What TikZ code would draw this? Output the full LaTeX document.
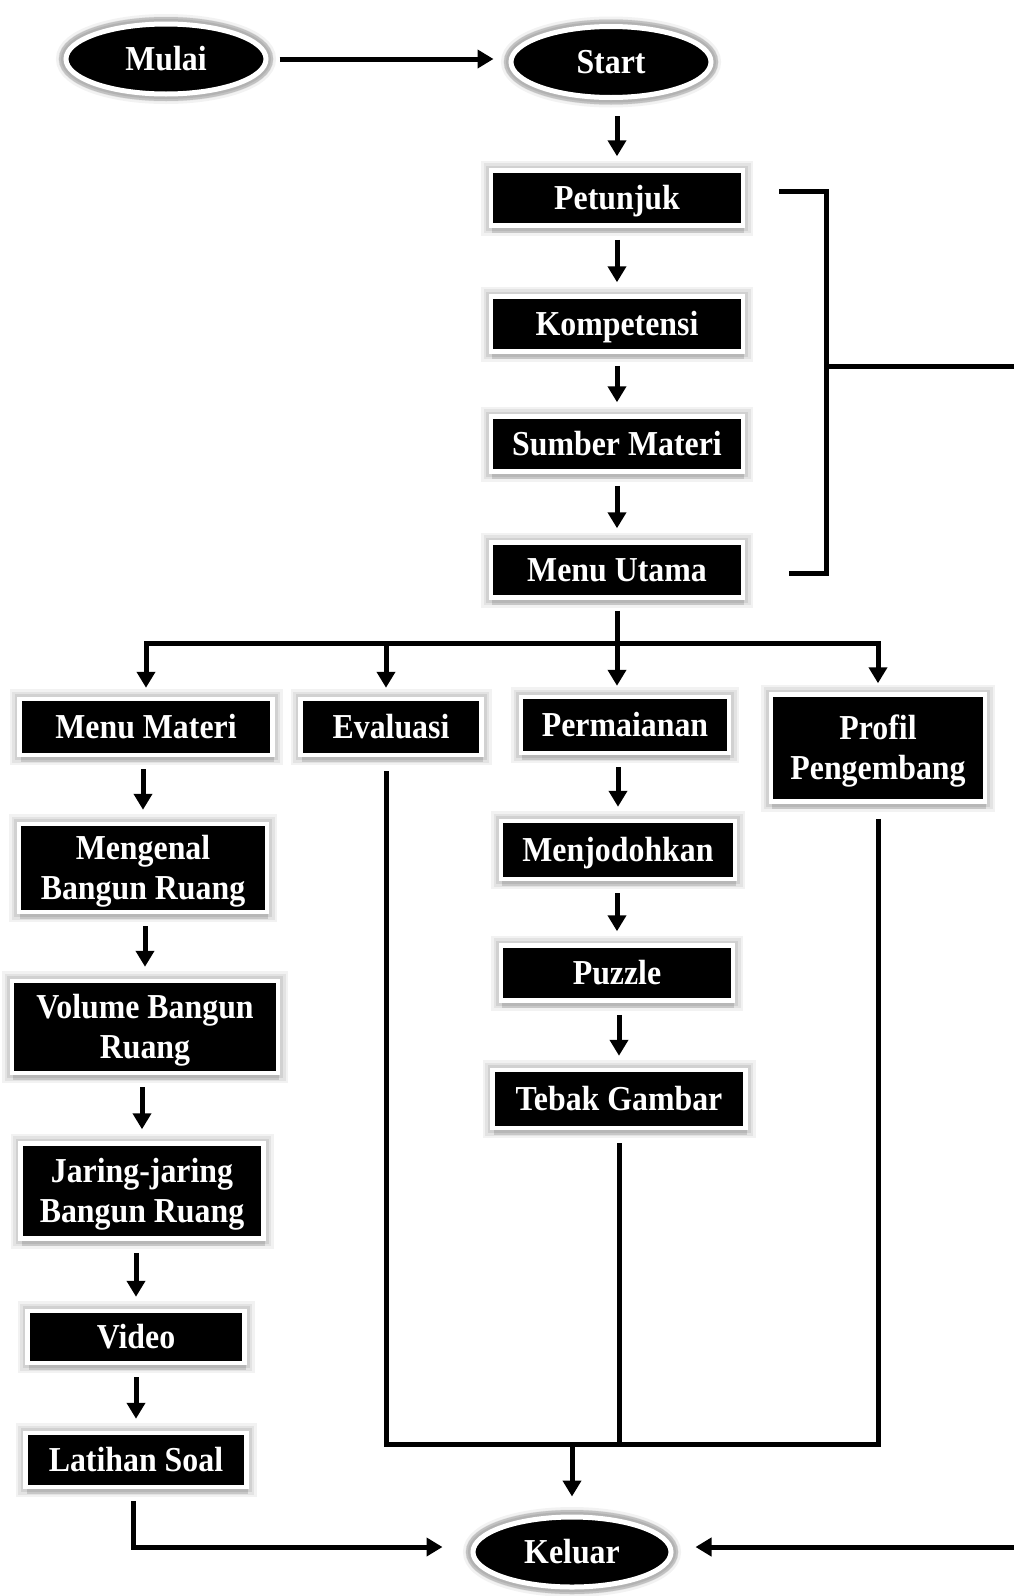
\documentclass[tikz,border=0pt]{standalone}
\usepackage{fontspec}
\setmainfont{Liberation Serif}[FakeStretch=0.91]
\usetikzlibrary{shapes.geometric,arrows.meta,shadows,calc}
\tikzset{
  lbl/.style={text=white, font=\fontsize{35}{40}\selectfont\bfseries, align=center, inner sep=0pt,
    text height=31pt, text depth=8pt},
  twoline/.style={text height=71pt},
  glow/.style={
    preaction={draw=black, draw opacity=0.05, line width=20pt},
    preaction={draw=black, draw opacity=0.06, line width=15pt},
    preaction={draw=black, draw opacity=0.08, line width=10pt}},
  box/.style={lbl, rectangle, fill=black, draw=white, line width=4.5pt,
    drop shadow={shadow xshift=1pt, shadow yshift=-7pt, fill=black, opacity=0.12},
    glow},
  oval/.style={lbl, ellipse, fill=black, draw=white, line width=5pt,
    drop shadow={shadow xshift=0pt, shadow yshift=-6pt, fill=black, opacity=0.12},
    preaction={draw=black!14, line width=14pt}, glow},
  ln/.style={line width=5pt, draw=black},
  arr/.style={ln, -{Triangle[length=16pt,width=18pt]}},
}
\begin{document}
\begin{tikzpicture}[x=1pt,y=-1pt]
\useasboundingbox[fill=white] (0,0) rectangle (1014,1596);

% nodes
\node[oval, minimum width=200pt, minimum height=70pt] (mulai) at (166,59) {Mulai};
\node[oval, minimum width=200pt, minimum height=71pt] (start) at (611,62) {Start};
\node[box, minimum width=252pt, minimum height=55pt] (pet) at (617,198) {Petunjuk};
\node[box, minimum width=252pt, minimum height=55pt] (komp) at (617,324) {Kompetensi};
\node[box, minimum width=252pt, minimum height=55pt] (sm) at (617,444) {Sumber Materi};
\node[box, minimum width=252pt, minimum height=55pt] (mu) at (617,570) {Menu Utama};

\node[box, minimum width=253pt, minimum height=56pt] (mm) at (146,727) {Menu Materi};
\node[box, minimum width=181pt, minimum height=56pt] (ev) at (391,727) {Evaluasi};
\node[box, minimum width=208pt, minimum height=56pt] (perm) at (625,725) {Permaianan};
\node[box, twoline, minimum width=214pt, minimum height=107pt] (pp) at (878,748) {Profil\\Pengembang};

\node[box, twoline, minimum width=248pt, minimum height=88pt] (meng) at (143,868) {Mengenal\\Bangun Ruang};
\node[box, twoline, minimum width=266pt, minimum height=92pt] (vol) at (145,1027) {Volume Bangun\\Ruang};
\node[box, twoline, minimum width=243pt, minimum height=95pt] (jar) at (142,1191) {Jaring-jaring\\Bangun Ruang};
\node[box, minimum width=217pt, minimum height=52pt] (vid) at (136,1337) {Video};
\node[box, minimum width=221pt, minimum height=54pt] (ls) at (136,1460) {Latihan Soal};

\node[box, minimum width=234pt, minimum height=58pt] (menj) at (618,850) {Menjodohkan};
\node[box, minimum width=232pt, minimum height=55pt] (puz) at (617,973) {Puzzle};
\node[box, minimum width=253pt, minimum height=58pt] (tg) at (619,1099) {Tebak Gambar};

\node[oval, minimum width=198pt, minimum height=70pt] (keluar) at (572,1552) {Keluar};

% coordinates
\coordinate (bus) at (618,643);
\coordinate (busB) at (573,1444);
\coordinate (evx) at (386,0);
\coordinate (bt) at (779,191);
\coordinate (btc) at (826,191);
\coordinate (bbc) at (826,573);
\coordinate (bb) at (789,573);
\coordinate (bm) at (826,366);
\coordinate (bmr) at (1014,366);
\coordinate (rin) at (1014,1547);
\coordinate (lin) at (133,1547);

% connectors
\draw[arr, shorten <=11pt, shorten >=15pt] (mulai.east) -- (mulai.east -| start.west);
\draw[arr, shorten <=16pt, shorten >=12pt] (start.south -| pet.north) -- (pet.north);
\foreach \a/\b in {pet/komp, komp/sm, sm/mu, mm/meng, meng/vol, vol/jar, jar/vid, vid/ls, perm/menj, menj/puz, puz/tg}
  \draw[arr, shorten <=12pt, shorten >=12pt] (\a.south -| \b.north) -- (\b.north);

% bracket
\draw[ln] (bt) -- (btc) -- (bbc) -- (bb);
\draw[ln] (bm) -- (bmr);

% menu utama bus
\draw[ln, shorten <=11pt] (mu.south) -- (mu.south |- bus);
\draw[ln, line cap=rect] (mm.north |- bus) -- (pp.north |- bus);
\draw[arr, shorten >=9pt] (mm.north |- bus) -- (mm.north);
\draw[arr, shorten >=9pt] (evx |- bus) -- (evx |- ev.north);
\draw[arr, shorten >=9pt] (mu.south |- bus) -- (mu.south |- perm.north);
\draw[arr, shorten >=9pt] (pp.north |- bus) -- (pp.north);

% bottom bus to Keluar
\draw[ln, shorten <=14pt] (evx |- ev.south) -- (evx |- busB);
\draw[ln, shorten <=13pt] (tg.south) -- (tg.south |- busB);
\draw[ln, shorten <=15pt] (pp.south) -- (pp.south |- busB);
\draw[ln, line cap=rect] (evx |- busB) -- (pp.south |- busB);
\draw[arr, shorten >=18pt] (keluar.north |- busB) -- (keluar.north);

% Latihan Soal to Keluar
\draw[ln, shorten <=12pt] (ls.south -| lin) -- (lin);
\draw[arr, line cap=rect, shorten >=28pt] (lin) -- (lin -| keluar.west);
\draw[arr, shorten >=22pt] (rin) -- (rin -| keluar.east);
\end{tikzpicture}
\end{document}
